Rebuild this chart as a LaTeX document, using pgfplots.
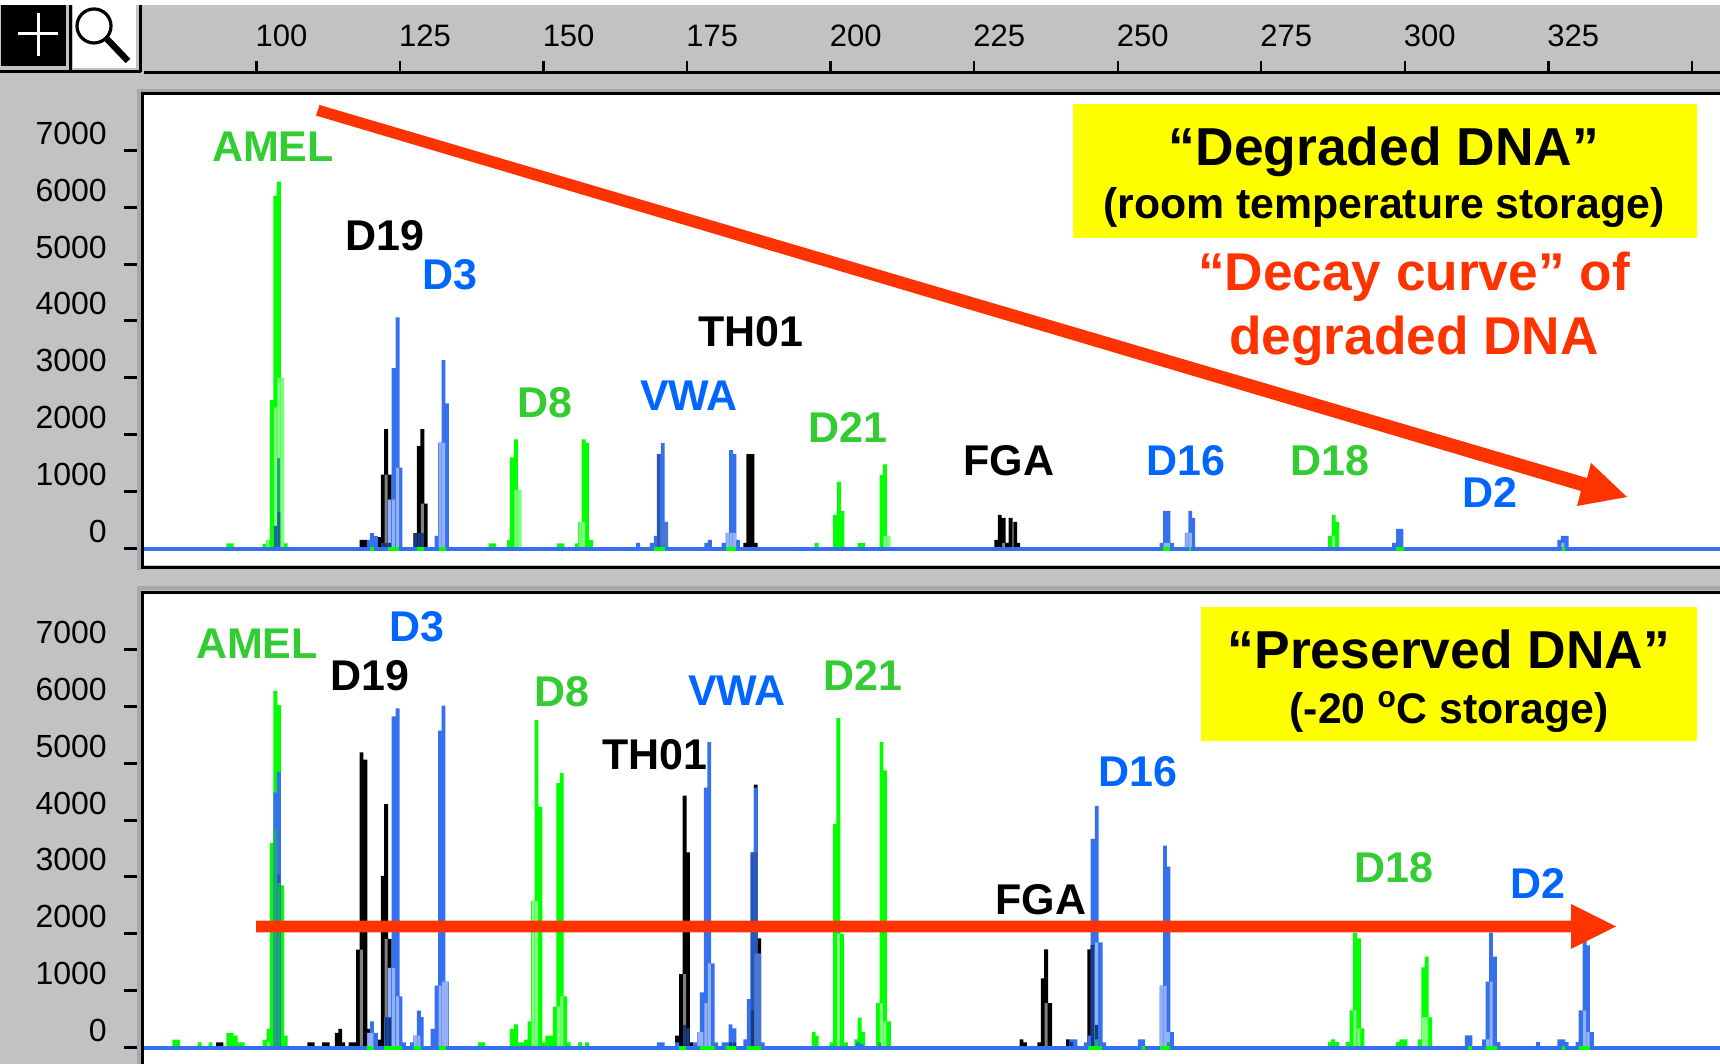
\documentclass[border=0pt]{standalone}
\usepackage{pgfplots}
\pgfplotsset{compat=1.18}
\usepackage{fontspec}
\setmainfont{Liberation Sans}
\definecolor{bgG}{HTML}{C3C1C4}
\definecolor{bgD}{HTML}{A8A6A9}
\definecolor{cB}{HTML}{3571EE}
\definecolor{cBl}{HTML}{94B0F8}
\definecolor{cBd}{HTML}{2855B8}
\definecolor{cBm}{HTML}{4A78D0}
\definecolor{cN}{HTML}{1A3A80}
\definecolor{cG}{HTML}{00FF00}
\definecolor{cGl}{HTML}{80FF80}
\definecolor{cT}{HTML}{1FA870}
\definecolor{cTd}{HTML}{1A6A90}
\definecolor{cK}{HTML}{000000}
\definecolor{cKl}{HTML}{808080}
\definecolor{tB}{HTML}{0066FF}
\definecolor{tG}{HTML}{33CC33}
\definecolor{cR}{HTML}{FF3300}
\definecolor{cY}{HTML}{FFFF00}
\pgfplotsset{
  pk/.style={ybar,bar width=1.95pt,bar shift=0pt,fill=#1,draw=none},
  pl/.style={ybar,bar width=1.5pt,bar shift=0pt,fill=#1,draw=none},
  panel/.style={
    scale only axis, width=788pt, anchor=south west,
    xmin=80.31, xmax=354.9,
    axis x line=none, axis y line*=left,
    axis line style={draw=none},
    ytick={0,1000,...,7000},
    tick align=outside,
    major tick length=10pt,
    ytick style={black,line width=1.5pt},
    tick label style={font=\fontsize{16}{16}\selectfont},
    yticklabel style={/pgf/number format/assume math mode=true,/pgf/number format/1000 sep={},anchor=east,xshift=-5.1pt,yshift=8.5pt},
  },
}
\newcommand{\lab}[4]{\node[text=#4,font=\bfseries\fontsize{21.5}{22}\selectfont,inner sep=0pt] at (#1,#2) {#3};}
\begin{document}
\begin{tikzpicture}
\useasboundingbox (0pt,0pt) rectangle (860pt,532pt);
\begin{scope}[x=0.5pt,y=-0.5pt,yshift=532pt]
  \fill[bgG] (0,0) rectangle (1720,1064);
  \fill[white] (0,0) rectangle (1720,5);
  \fill[white] (143,93) rectangle (1720,565);
  \fill[white] (143,593) rectangle (1720,1064);
\end{scope}
% ruler
\begin{axis}[
  at={(71.75pt,495.5pt)}, anchor=south west, scale only axis,
  width=788.25pt, height=18pt,
  xmin=80.31, xmax=354.9, ymin=0, ymax=1,
  axis x line*=bottom, axis y line=none,
  axis line style={black,line width=1.5pt,-},
  xtick={100,125,...,350},
  xticklabels={100,125,150,175,200,225,250,275,300,325,{}},
  xtick align=inside, major tick length=6pt,
  xtick style={black,line width=1.2pt},
  xticklabel style={font=\fontsize{15.5}{16}\selectfont,anchor=center,xshift=12.5pt,yshift=18.5pt},
]
\addplot[draw=none] coordinates {(100,0)(325,0)};
\end{axis}
% top panel
\begin{axis}[panel, at={(72pt,250pt)}, height=235pt, ymin=-272, ymax=7988]
\addplot[pk=cG] coordinates {(95,90)(95.6,90)(101.3,80)(101.9,150)(102.6,2610)(103.2,6200)(103.8,6450)(104.4,3000)(105,90)
 (140.7,90)(141.3,90)(143.9,150)(144.4,1600)(145.1,1920)(145.7,1030)
 (152.6,90)(153.2,90)(155.7,90)(156.3,465)(156.9,1920)(157.5,1860)(158.2,150)
 (197.5,100)(200.7,590)(201.4,1170)(202,660)(205,100)(205.6,100)(208.8,1290)(209.4,1480)(210,220)
 (286.9,220)(287.6,590)(288.2,470)};
\addplot[pl=cGl] coordinates {(101.9,150)(103.2,2480)(103.8,3000)(104.4,3000)(145.1,1030)(145.7,1030)(156.3,465)(156.9,465)(209.4,220)(210,220)(287.6,220)};
\addplot[pl=cT] coordinates {(103.8,1590)};
\addplot[pl=cTd] coordinates {(103.2,400)(103.8,640)};
\addplot[pk=cK] coordinates {(118.2,150)(118.8,150)(121.4,200)(121.9,1300)(122.5,2100)(123.1,1300)
 (127.6,270)(128.2,1800)(128.8,2100)(129.4,790)
 (169.7,150)(185.1,100)(185.6,1660)(186.3,1660)(186.9,100)
 (228.8,150)(229.4,590)(230.1,540)(230.7,100)(231.3,540)(232.1,470)(232.6,100)};
\addplot[pl=cKl] coordinates {(122.5,1300)(128.8,790)(230.1,100)};
\addplot[pk=cB] coordinates {(119.5,150)(120,270)(120.7,220)(123.1,860)(123.8,3170)(124.5,4060)(125,1420)
 (131.3,220)(131.9,1860)(132.5,3310)(133.1,2550)
 (166.4,100)(168.8,100)(169.5,220)(170,1660)(170.7,1850)(171.3,470)
 (178.3,100)(178.9,150)(181.3,100)(182,275)(182.6,1730)(183.2,1660)(183.8,150)
 (257.6,100)(258.2,660)(258.8,660)(259.4,100)(262,275)(262.6,660)(263.1,540)
 (298.1,100)(298.8,345)(299.4,345)(326.9,150)(327.5,220)(328.2,220)};
\addplot[pl=cBd] coordinates {(170,1660)};
\addplot[pl=cBm] coordinates {(170.7,470)(171.3,470)};
\addplot[pl=cBl] coordinates {(123.1,860)(123.8,860)(124.5,1420)(131.9,1860)(132.5,1860)(182,275)(182.6,275)(183.2,275)(258.2,100)(258.8,100)(262,275)(262.6,275)(327.5,100)};
\addplot[pl=cN] coordinates {(121.9,100)(122.5,100)(123.1,100)(127.6,270)(128.2,270)(128.8,270)};
\addplot[cB,line width=2pt] coordinates {(80.31,0)(354.9,0)};
\addplot[cG,line width=2pt,unbounded coords=jump] coordinates {(119.7,0)(120.3,0)(120.5,nan)(122.8,0)(124.7,0)(125,nan)(127.9,0)(129.1,0)(129.5,nan)(131.7,0)(132.9,0)(133,nan)(169.2,0)(171,0)(171.5,nan)(181.7,0)(183.4,0)(184,nan)(257.8,0)(259,0)(260,nan)(262.3,0)(262.8,0)(263,nan)(298.4,0)(299.8,0)(300,nan)(327.3,0)(327.9,0)};
\end{axis}
% bottom panel
\begin{axis}[panel, at={(72pt,0pt)}, height=234pt, ymin=-288, ymax=7937]
\addplot[pk=cG] coordinates {(85.6,140)(86.2,140)(90,90)(91.9,90)(95,260)(95.6,260)(96.3,210)(96.9,90)(97.5,90)
 (101.3,140)(102,330)(102.6,3600)(103.2,6270)(103.8,6020)(104.4,2850)(105,210)
 (138.8,90)(139.4,90)(144.4,330)(145.1,410)(145.7,90)(146.3,90)(146.9,140)(147.5,460)(148.1,2580)(148.7,5760)(149.4,4230)(150,90)(150.6,210)(151.2,210)(151.9,720)(152.5,4650)(153.1,4830)(153.7,900)(154.3,90)(156.3,90)(157.5,90)
 (197,270)(197.5,210)(200.1,90)(200.7,3930)(201.3,5790)(201.9,2000)(202.6,90)
 (204.4,145)(205,525)(205.6,270)(208.2,780)(208.8,5370)(209.4,4870)(210.1,460)
 (286.9,95)(287.5,145)(288.2,95)(290,95)(290.7,655)(291.3,2020)(292,1920)(292.6,340)
 (298.8,95)(299.4,145)(300.1,145)(302.6,145)(303.2,1410)(303.8,1600)(304.4,530)};
\addplot[pl=cGl] coordinates {(102,100)(148.1,2580)(148.7,2580)(152.5,720)(153.1,900)(201.3,2000)(208.8,780)(209.4,460)(291.3,655)(292,340)(303.2,530)(303.8,530)};
\addplot[pk=cK] coordinates {(93.2,90)(93.8,90)(109.1,90)(109.7,90)(111.7,90)(112.3,90)(113.9,260)(114.5,330)(115,90)(116.3,90)(116.9,90)(117.6,1720)(118.2,5190)(118.9,5060)(119.5,330)
 (121.4,140)(121.9,3020)(122.5,4280)(123.1,1910)
 (173.2,210)(173.9,1290)(174.5,4430)(175.1,3430)(175.7,90)
 (185.7,145)(186.3,655)(186.9,4620)(187.5,1920)
 (233.2,145)(233.8,90)(236.3,90)(236.9,1215)(237.5,1725)(238.2,780)(241.3,145)
 (245,1725)(245.6,1800)};
\addplot[pl=cKl] coordinates {(118.2,1720)(122.5,1910)(174.5,1290)(237.5,780)};
\addplot[pk=cB] coordinates {(103.2,4480)(103.8,4840)
 (119.5,260)(120,460)(120.7,260)(122.5,530)(123.1,1400)(123.8,5820)(124.5,5960)(125,900)(125.6,90)
 (127,90)(127.6,210)(128.2,650)(128.7,535)(130.6,330)(131.3,1090)(131.9,5570)(132.5,6010)(133.1,1160)
 (170,90)(170.7,90)(173.2,90)(176.3,90)(177,270)(177.5,970)(178.2,4570)(178.8,5370)(179.4,1480)(180,90)
 (181.3,90)(181.9,90)(182.5,410)(183.2,340)
 (185.1,145)(185.7,850)(186.3,3430)(186.9,4570)(187.5,1650)(188.1,90)
 (204.7,90)(205.3,60)(241.9,145)(242.6,145)
 (244.4,90)(245,210)(245.6,3670)(246.3,4250)(247,1850)(247.6,90)
 (253.8,145)(254.4,145)
 (257.6,1090)(258.2,3550)(258.8,3180)(259.4,270)
 (310.8,215)(311.4,215)(313.8,145)(314.4,1160)(315,2020)(315.7,1600)(316.3,95)
 (323.2,95)(326.9,145)(327.6,145)(328.2,95)(330.1,95)(330.6,655)(331.3,1880)(331.9,1795)(332.6,270)};
\addplot[pl=cBd] coordinates {(103.8,3030)(186.3,3430)(186.9,3430)};
\addplot[pl=cBm] coordinates {(186.9,1650)(187.5,1650)};
\addplot[pl=cT] coordinates {(103.2,3840)(103.8,2890)};
\addplot[pl=cBl] coordinates {(119.5,260)(120,260)(123.1,1400)(123.8,1400)(124.5,900)(127.6,210)(128.2,210)(131.9,1090)(132.5,1160)(133.1,1160)
 (177,270)(177.5,270)(178.2,780)(178.8,1480)
 (246.3,1850)(257.6,1090)(258.2,1090)(258.8,270)(314.4,145)(315,1160)(331.3,655)(331.9,270)};
\addplot[pl=cN] coordinates {(122.5,530)(123.1,530)(174.5,400)(175.1,340)(182.5,90)(183.2,90)(186.3,655)(241.9,100)(245.6,1800)(246.3,400)};
\addplot[pl=cT] coordinates {(246.3,145)(258.8,95)(208.5,90)};
\addplot[cB,line width=2pt] coordinates {(80.31,0)(354.9,0)};
\addplot[cG,line width=2pt,unbounded coords=jump] coordinates {(119.1,0)(120.3,0)(120.5,nan)(122.2,0)(125.3,0)(126,nan)(127.3,0)(128.5,0)(129,nan)(131.7,0)(132.9,0)(133,nan)(173.5,0)(174.8,0)(175,nan)(177.2,0)(179.8,0)(180,nan)(181.7,0)(183.5,0)(184,nan)(185.4,0)(187.8,0)(188,nan)(244.8,0)(247.3,0)(248,nan)(254.2,0)(254.7,0)(255,nan)(257.3,0)(259.1,0)(260,nan)(311,0)(311.7,0)(312,nan)(314.1,0)(316.1,0)(317,nan)(327.3,0)(327.9,0)(328,nan)(330.3,0)(332.2,0)};
\end{axis}
\begin{scope}[x=0.5pt,y=-0.5pt,yshift=532pt]
  % frames and left strips
  \fill[bgD] (137,90) rectangle (141,570);
  \fill[bgD] (137,586) rectangle (1720,590);
  \fill[bgD] (137,590) rectangle (141,1064);
  \fill[bgD] (137,89) rectangle (1720,92);
  \draw[black,line width=1.75pt] (142.5,93.5) -- (1725,93.5);
  \draw[black,line width=1.75pt] (142.5,92) -- (142.5,567.5) -- (1725,567.5);
  \draw[black,line width=1.75pt] (142.5,1070) -- (142.5,592.5) -- (1725,592.5);
  % toolbar
  \fill[black] (1,5) rectangle (66,66);
  \draw[white,line width=1.5pt] (18,33.5) -- (58,33.5) (38.5,13) -- (38.5,56);
  \fill[white] (73,5) rectangle (136,68);
  \draw[black,line width=1.6pt] (94,26) circle (17);
  \draw[black,line width=3.2pt] (107,39) -- (128,61);
  \draw[black,line width=1.5pt] (0,72) -- (141,72);
  \draw[black,line width=1.5pt] (140,5) -- (140,72);
  \draw[black,line width=1.5pt] (70,5) -- (70,72);
  % yellow boxes
  \fill[cY] (1073,104) rectangle (1697,238);
  \fill[cY] (1201,607) rectangle (1697,741);
  % arrows
  \fill[cR] (319.5,105) -- (1587,478) -- (1591,463) -- (1627,497) -- (1577,506) -- (1581,491) -- (316,115.6) -- cycle;
  \fill[cR] (256,920.7) -- (1571,920.7) -- (1571,904) -- (1616,926.5) -- (1571,949) -- (1571,932.3) -- (256,932.3) -- cycle;
  % peak labels, top
  \lab{273}{147}{AMEL}{tG}
  \lab{385}{236}{D19}{black}
  \lab{450}{275}{D3}{tB}
  \lab{545}{403}{D8}{tG}
  \lab{689}{396}{VWA}{tB}
  \lab{751}{332}{TH01}{black}
  \lab{848}{428}{D21}{tG}
  \lab{1009}{461}{FGA}{black}
  \lab{1186}{461}{D16}{tB}
  \lab{1330}{461}{D18}{tG}
  \lab{1490}{493}{D2}{tB}
  % peak labels, bottom
  \lab{257}{644}{AMEL}{tG}
  \lab{417}{627}{D3}{tB}
  \lab{370}{676}{D19}{black}
  \lab{562}{692}{D8}{tG}
  \lab{737}{691}{VWA}{tB}
  \lab{863}{676}{D21}{tG}
  \lab{655}{755}{TH01}{black}
  \lab{1138}{772}{D16}{tB}
  \lab{1041}{900}{FGA}{black}
  \lab{1394}{868}{D18}{tG}
  \lab{1538}{883}{D2}{tB}
  % callouts
  \node[font=\bfseries\fontsize{26.7}{27}\selectfont,inner sep=0pt] at (1384,151.5) {“Degraded DNA”};
  \node[font=\bfseries\fontsize{21.4}{22}\selectfont,inner sep=0pt] at (1384,208) {(room temperature storage)};
  \node[font=\bfseries\fontsize{26.6}{27}\selectfont,text=cR,inner sep=0pt] at (1414,276.5) {“Decay curve” of};
  \node[font=\bfseries\fontsize{26.6}{27}\selectfont,text=cR,inner sep=0pt] at (1414,340.5) {degraded DNA};
  \node[font=\bfseries\fontsize{26.7}{27}\selectfont,inner sep=0pt] at (1449,649) {“Preserved DNA”};
  \node[font=\bfseries\fontsize{21.4}{22}\selectfont,inner sep=0pt] at (1449,712) {(-20 \textsuperscript{o}C storage)};
\end{scope}
\end{tikzpicture}
\end{document}
